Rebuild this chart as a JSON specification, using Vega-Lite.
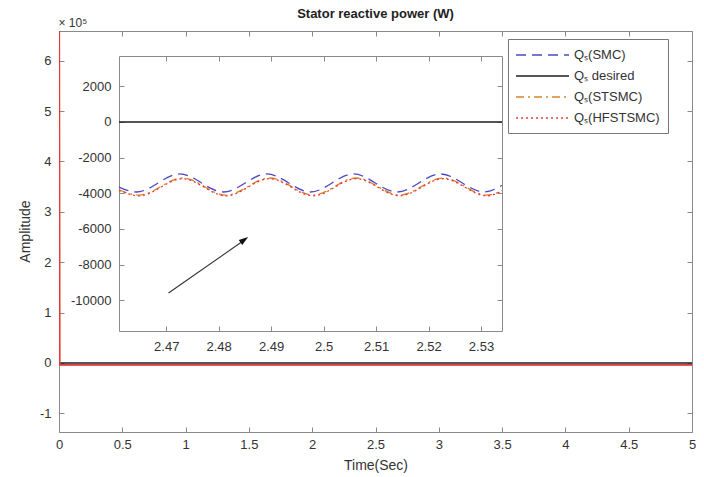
{
  "$schema": "https://vega.github.io/schema/vega-lite/v6.json",
  "width": 633,
  "height": 401,
  "autosize": "none",
  "padding": {"left": 59, "top": 31, "right": 12, "bottom": 45},
  "background": "white",
  "title": {"text": "Stator reactive power (W)", "fontSize": 13, "fontWeight": "bold", "anchor": "middle", "color": "#222", "offset": 0, "dy": 18, "baseline": "bottom"},
  "datasets": {
    "main": [
      {"t": 0, "q": 0, "series": "Qₛ desired"},
      {"t": 5, "q": 0, "series": "Qₛ desired"},
      {"t": 0, "q": 0, "series": "Qₛ(SMC)"},
      {"t": 0.01, "q": -3420, "series": "Qₛ(SMC)"},
      {"t": 5, "q": -3420, "series": "Qₛ(SMC)"},
      {"t": 0, "q": 0, "series": "Qₛ(STSMC)"},
      {"t": 0.002, "q": 720000, "series": "Qₛ(STSMC)"},
      {"t": 0.005, "q": -3620, "series": "Qₛ(STSMC)"},
      {"t": 5, "q": -3620, "series": "Qₛ(STSMC)"},
      {"t": 0, "q": 0, "series": "Qₛ(HFSTSMC)"},
      {"t": 0.002, "q": 720000, "series": "Qₛ(HFSTSMC)"},
      {"t": 0.005, "q": -3650, "series": "Qₛ(HFSTSMC)"},
      {"t": 5, "q": -3650, "series": "Qₛ(HFSTSMC)"}
    ],
    "inset": [
      {"t": 2.461, "q": 0, "series": "Qₛ desired"},
      {"t": 2.534, "q": 0, "series": "Qₛ desired"},
      {"t": 2.461, "q": -3800, "series": "Qₛ(STSMC)"},
      {"t": 2.4648, "q": -4100, "series": "Qₛ(STSMC)"},
      {"t": 2.4731, "q": -3140, "series": "Qₛ(STSMC)"},
      {"t": 2.4814, "q": -4100, "series": "Qₛ(STSMC)"},
      {"t": 2.4897, "q": -3140, "series": "Qₛ(STSMC)"},
      {"t": 2.498, "q": -4100, "series": "Qₛ(STSMC)"},
      {"t": 2.5062, "q": -3140, "series": "Qₛ(STSMC)"},
      {"t": 2.5145, "q": -4100, "series": "Qₛ(STSMC)"},
      {"t": 2.5228, "q": -3140, "series": "Qₛ(STSMC)"},
      {"t": 2.5311, "q": -4100, "series": "Qₛ(STSMC)"},
      {"t": 2.534, "q": -3840, "series": "Qₛ(STSMC)"},
      {"t": 2.461, "q": -3830, "series": "Qₛ(HFSTSMC)"},
      {"t": 2.4648, "q": -4140, "series": "Qₛ(HFSTSMC)"},
      {"t": 2.4731, "q": -3180, "series": "Qₛ(HFSTSMC)"},
      {"t": 2.4814, "q": -4140, "series": "Qₛ(HFSTSMC)"},
      {"t": 2.4897, "q": -3180, "series": "Qₛ(HFSTSMC)"},
      {"t": 2.498, "q": -4140, "series": "Qₛ(HFSTSMC)"},
      {"t": 2.5062, "q": -3180, "series": "Qₛ(HFSTSMC)"},
      {"t": 2.5145, "q": -4140, "series": "Qₛ(HFSTSMC)"},
      {"t": 2.5228, "q": -3180, "series": "Qₛ(HFSTSMC)"},
      {"t": 2.5311, "q": -4140, "series": "Qₛ(HFSTSMC)"},
      {"t": 2.534, "q": -3870, "series": "Qₛ(HFSTSMC)"},
      {"t": 2.461, "q": -3650, "series": "Qₛ(SMC)"},
      {"t": 2.4643, "q": -3925, "series": "Qₛ(SMC)"},
      {"t": 2.4726, "q": -2915, "series": "Qₛ(SMC)"},
      {"t": 2.4809, "q": -3925, "series": "Qₛ(SMC)"},
      {"t": 2.4892, "q": -2915, "series": "Qₛ(SMC)"},
      {"t": 2.4975, "q": -3925, "series": "Qₛ(SMC)"},
      {"t": 2.5057, "q": -2915, "series": "Qₛ(SMC)"},
      {"t": 2.514, "q": -3925, "series": "Qₛ(SMC)"},
      {"t": 2.5223, "q": -2915, "series": "Qₛ(SMC)"},
      {"t": 2.5306, "q": -3925, "series": "Qₛ(SMC)"},
      {"t": 2.534, "q": -3560, "series": "Qₛ(SMC)"}
    ],
    "arrow": [
      {"t": 2.47044, "q": -9591, "t2": 2.48505, "q2": -6590}
    ],
    "arrowhead": [
      {"t": 2.48476, "q": -6629}
    ]
  },
  "layer": [
    {
      "data": {"name": "main"},
      "layer": [
        {
          "mark": {"type": "line", "strokeWidth": 1.6, "clip": true},
          "encoding": {
            "x": {"field": "t", "type": "quantitative",
                  "scale": {"domain": [0, 5], "nice": false, "zero": false},
                  "axis": {"orient": "bottom", "values": [0, 0.5, 1, 1.5, 2, 2.5, 3, 3.5, 4, 4.5, 5], "labelExpr": "'' + datum.value", "title": "Time(Sec)", "titleFontSize": 14, "titleX": 316.5, "titleY": 33, "titleBaseline": "middle", "labelPadding": 11, "labelFlush": false}},
            "y": {"field": "q", "type": "quantitative",
                  "scale": {"domain": [-137000, 659000], "nice": false, "zero": false},
                  "axis": {"orient": "left", "values": [-100000, 0, 100000, 200000, 300000, 400000, 500000, 600000], "labelExpr": "'' + (datum.value / 100000)", "title": "Amplitude", "titleFontSize": 14, "titleX": -34, "titleY": 200, "titleAngle": 270, "titleBaseline": "middle", "labelPadding": 13}},
            "color": {"field": "series", "type": "nominal",
                      "scale": {"domain": ["Qₛ(SMC)", "Qₛ desired", "Qₛ(STSMC)", "Qₛ(HFSTSMC)"], "range": ["#4848c4", "#1e1e1e", "#d9822b", "#e8383a"]},
                      "legend": {"orient": "none", "legendX": 449, "legendY": 8, "title": null, "padding": 8, "strokeColor": "#777", "fillColor": "white", "symbolType": "M-1.14,0L6.43,0", "symbolSize": 196, "symbolStrokeWidth": 1.5, "labelFontSize": 13, "labelColor": "#333", "rowPadding": 6, "labelOffset": 42}}
          }
        },
        {
          "mark": {"type": "point", "opacity": 0, "clip": true},
          "encoding": {
            "x": {"field": "t", "type": "quantitative",
                  "axis": {"orient": "top", "values": [0, 0.5, 1, 1.5, 2, 2.5, 3, 3.5, 4, 4.5, 5], "labels": false, "title": "× 10⁵", "titleFontSize": 12, "titleX": -1, "titleY": -5, "titleAlign": "left", "titleBaseline": "alphabetic"}},
            "y": {"field": "q", "type": "quantitative",
                  "axis": {"orient": "right", "values": [-100000, 0, 100000, 200000, 300000, 400000, 500000, 600000], "labels": false, "title": null}}
          }
        }
      ],
      "resolve": {"axis": {"x": "independent", "y": "independent"}}
    },
    {
      "layer": [
        {
          "data": {"name": "inset"},
          "mark": {"type": "line", "interpolate": "monotone", "strokeWidth": 1.3},
          "encoding": {
            "x": {"field": "t", "type": "quantitative",
                  "scale": {"domain": [2.461, 2.534], "range": [60, 443], "nice": false, "zero": false},
                  "axis": {"orient": "bottom", "offset": -101, "values": [2.47, 2.48, 2.49, 2.5, 2.51, 2.52, 2.53], "labelExpr": "'' + datum.value", "title": null, "labelPadding": 14, "labelFlush": false}},
            "y": {"field": "q", "type": "quantitative",
                  "scale": {"domain": [-11720, 3700], "range": [300, 25], "nice": false, "zero": false},
                  "axis": {"orient": "left", "offset": -60, "values": [-10000, -8000, -6000, -4000, -2000, 0, 2000], "labelExpr": "'' + datum.value", "title": null, "labelPadding": 13}},
            "color": {"field": "series", "type": "nominal",
                      "scale": {"domain": ["Qₛ(SMC)", "Qₛ desired", "Qₛ(STSMC)", "Qₛ(HFSTSMC)"], "range": ["#4848c4", "#1e1e1e", "#d9822b", "#e8383a"]},
                      "legend": {"orient": "none", "legendX": 449, "legendY": 8, "title": null, "padding": 8, "strokeColor": "#777", "fillColor": "white", "symbolType": "M-1.14,0L6.43,0", "symbolSize": 196, "symbolStrokeWidth": 1.5, "labelFontSize": 13, "labelColor": "#333", "rowPadding": 6, "labelOffset": 42}},
            "strokeDash": {"field": "series", "type": "nominal",
                      "scale": {"domain": ["Qₛ(SMC)", "Qₛ desired", "Qₛ(STSMC)", "Qₛ(HFSTSMC)"], "range": [[10, 6], [1, 0], [8, 4, 2, 4], [2, 3]]},
                      "legend": {"orient": "none", "legendX": 449, "legendY": 8, "title": null, "padding": 8, "strokeColor": "#777", "fillColor": "white", "symbolType": "M-1.14,0L6.43,0", "symbolSize": 196, "symbolStrokeWidth": 1.5, "labelFontSize": 13, "labelColor": "#333", "rowPadding": 6, "labelOffset": 42}}
          }
        },
        {
          "data": {"name": "inset"},
          "mark": {"type": "point", "opacity": 0, "clip": true},
          "encoding": {
            "x": {"field": "t", "type": "quantitative",
                  "axis": {"orient": "top", "offset": -25, "values": [2.47, 2.48, 2.49, 2.5, 2.51, 2.52, 2.53], "labels": false, "title": null}},
            "y": {"field": "q", "type": "quantitative",
                  "axis": {"orient": "right", "offset": -190, "values": [-10000, -8000, -6000, -4000, -2000, 0, 2000], "labels": false, "title": null}}
          }
        },
        {
          "data": {"name": "arrow"},
          "mark": {"type": "rule", "color": "#333", "strokeWidth": 1.1},
          "encoding": {
            "x": {"field": "t", "type": "quantitative", "axis": null},
            "y": {"field": "q", "type": "quantitative", "axis": null},
            "x2": {"field": "t2"},
            "y2": {"field": "q2"}
          }
        },
        {
          "data": {"name": "arrowhead"},
          "mark": {"type": "point", "shape": "M0,-1L0.55,0.7L-0.55,0.7Z", "filled": true, "color": "#111", "size": 121, "angle": 55, "opacity": 1},
          "encoding": {
            "x": {"field": "t", "type": "quantitative", "axis": null},
            "y": {"field": "q", "type": "quantitative", "axis": null}
          }
        }
      ],
      "resolve": {"axis": {"x": "independent", "y": "independent"}}
    }
  ],
  "resolve": {"scale": {"x": "independent", "y": "independent"}},
  "config": {
    "font": "Liberation Sans",
    "view": {"stroke": null},
    "axis": {"grid": false, "domainColor": "#8a8a8a", "tickColor": "#8a8a8a", "labelColor": "#333", "labelFontSize": 13, "titleColor": "#333", "titleFontWeight": "normal", "tickSize": -5, "labelPadding": 12},
    "legend": {"cornerRadius": 0}
  }
}
